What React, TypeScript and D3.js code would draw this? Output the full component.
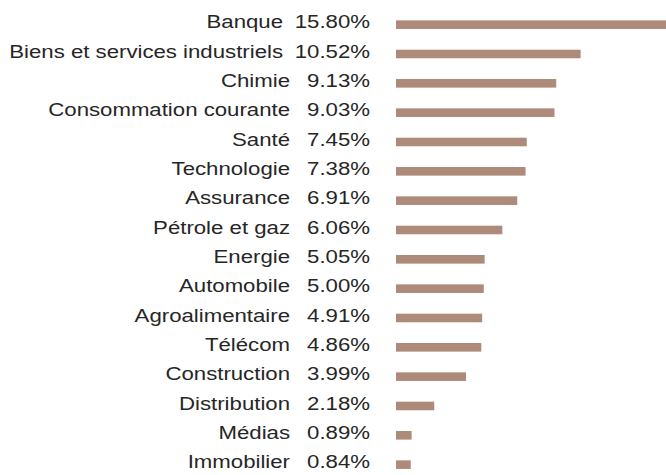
import React from "react";
import * as d3 from "d3";

const categories = [
  "Banque",
  "Biens et services industriels",
  "Chimie",
  "Consommation courante",
  "Santé",
  "Technologie",
  "Assurance",
  "Pétrole et gaz",
  "Energie",
  "Automobile",
  "Agroalimentaire",
  "Télécom",
  "Construction",
  "Distribution",
  "Médias",
  "Immobilier",
];
const values = [15.8, 10.52, 9.13, 9.03, 7.45, 7.38, 6.91, 6.06, 5.05, 5.0, 4.91, 4.86, 3.99, 2.18, 0.89, 0.84];

const W = 666;
const H = 475;

export default function App() {
  const y = d3
    .scaleBand<string>()
    .domain(categories)
    .range([10, 479.3])
    .paddingInner(0.7)
    .paddingOuter(0.35);
  const x = d3.scaleLinear().domain([0, 10]).range([396, 571.5]);
  const fmt = (v: number) => v.toFixed(2) + "%";
  const font = "'Liberation Sans', Arial, Helvetica, sans-serif";
  const sx = 1.2;
  return (
    <svg
      width={W}
      height={H}
      style={{ position: "fixed", left: 0, top: 0, display: "block" }}
    >
      <rect x={0} y={0} width={W} height={H} fill="#ffffff" />
      {categories.map((c, i) => {
        const yc = (y(c) as number) + y.bandwidth() / 2;
        const nameEnd = values[i] >= 10 ? 283 : 290;
        return (
          <g key={c}>
            <rect
              x={x(0)}
              y={yc - 4.3}
              width={x(values[i]) - x(0)}
              height={8.6}
              fill="#ad8a7a"
            />
            <text
              transform={`translate(${nameEnd},${yc + 3.6}) scale(${sx},1)`}
              textAnchor="end"
              fontFamily={font}
              fontSize={18.5}
              fill="#262626"
            >
              {c}
            </text>
            <text
              transform={`translate(370,${yc + 3.6}) scale(${sx},1)`}
              textAnchor="end"
              fontFamily={font}
              fontSize={18.5}
              fill="#262626"
            >
              {fmt(values[i])}
            </text>
          </g>
        );
      })}
    </svg>
  );
}
